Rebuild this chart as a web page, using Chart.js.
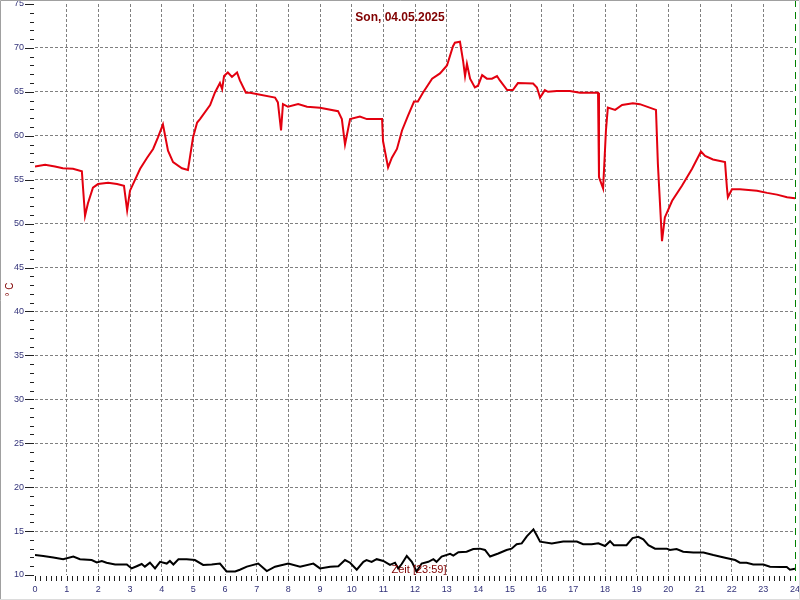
<!DOCTYPE html>
<html>
<head>
<meta charset="utf-8">
<title>Son, 04.05.2025</title>
<script src="https://cdn.jsdelivr.net/npm/chart.js@4.4.1/dist/chart.umd.min.js"></script>
<style>
  html, body { margin: 0; padding: 0; background: #fff; }
  #wrap { width: 800px; height: 600px; }
</style>
</head>
<body>
<div id="wrap"><canvas id="chart1" width="800" height="600"></canvas></div>
<script>
  "use strict";

  var chartTitle = 'Son, 04.05.2025';
  var timeLabel = 'Zeit [23:59]';
  var unitLabel = '° C';

  // red series (hours, °C)
  var redHours = [0.00, 0.32, 0.63, 0.88, 1.20, 1.48, 1.58, 1.67, 1.83, 1.99, 2.31, 2.59, 2.81, 2.91, 3.00,
    3.32, 3.54, 3.73, 3.88, 4.04, 4.20, 4.36, 4.64, 4.83, 4.99, 5.12, 5.21, 5.53, 5.68, 5.84, 5.91,
    5.97, 6.09, 6.22, 6.38, 6.47, 6.66, 6.79, 7.58, 7.67, 7.77, 7.83, 7.99, 8.31, 8.59, 9.00, 9.57,
    9.69, 9.79, 9.95, 10.26, 10.48, 10.96, 10.99, 11.15, 11.27, 11.43, 11.59, 11.78, 11.97, 12.09,
    12.25, 12.54, 12.79, 13.01, 13.20, 13.26, 13.42, 13.52, 13.58, 13.64, 13.74, 13.89, 13.99, 14.12,
    14.27, 14.43, 14.59, 14.68, 14.91, 15.09, 15.25, 15.73, 15.85, 15.95, 16.10, 16.20, 16.48, 16.89,
    17.21, 17.78, 17.81, 17.94, 18.03, 18.09, 18.32, 18.54, 18.88, 19.10, 19.61, 19.67, 19.80, 19.89,
    20.12, 20.43, 20.75, 21.03, 21.16, 21.41, 21.79, 21.85, 21.88, 22.01, 22.26, 22.80, 23.12, 23.43,
    23.75, 24.00];
  var redTemp = [56.5, 56.7, 56.5, 56.3, 56.25, 55.95, 50.9, 52.3, 54.1, 54.5, 54.65, 54.5, 54.3, 51.5, 53.75,
    56.25, 57.5, 58.5, 59.8, 61.3, 58.3, 57.0, 56.3, 56.1, 59.8, 61.5, 61.9, 63.5, 64.9, 66.0, 65.3,
    66.8, 67.2, 66.7, 67.2, 66.3, 64.9, 64.9, 64.35, 63.8, 60.6, 63.6, 63.3, 63.6, 63.3, 63.2, 62.8,
    61.9, 59.0, 61.9, 62.2, 61.9, 61.9, 59.4, 56.4, 57.5, 58.5, 60.6, 62.3, 63.9, 63.9,
    64.9, 66.5, 67.1, 68.0, 70.2, 70.6, 70.7, 68.5, 66.8, 68.2, 66.5, 65.5, 65.7, 66.9,
    66.5, 66.5, 66.8, 66.3, 65.2, 65.2, 66.0, 65.95, 65.5, 64.35, 65.2, 65.0, 65.1, 65.1,
    64.9, 64.9, 55.3, 54.0, 60.6, 63.2, 62.95, 63.5, 63.7, 63.6, 62.95, 56.8, 48.0, 50.7,
    52.6, 54.3, 56.25, 58.2, 57.7, 57.3, 57.0, 54.1, 53.0, 53.9, 53.9, 53.75, 53.5, 53.3,
    53.0, 52.9];

  // black series (hours, °C)
  var blackHours = [0.00, 0.26, 0.58, 0.89, 1.21, 1.42, 1.79, 1.95, 2.11, 2.26, 2.53, 2.90, 3.05, 3.21, 3.37,
    3.47, 3.63, 3.79, 3.95, 4.16, 4.26, 4.37, 4.53, 4.79, 5.05, 5.31, 5.58, 5.84, 6.05, 6.32, 6.47,
    6.69, 7.05, 7.32, 7.58, 8.00, 8.37, 8.79, 9.00, 9.32, 9.58, 9.79, 9.95, 10.16, 10.37, 10.47,
    10.63, 10.79, 11.00, 11.21, 11.37, 11.47, 11.58, 11.74, 11.90, 12.05, 12.21, 12.42, 12.58, 12.68,
    12.84, 13.11, 13.21, 13.37, 13.63, 13.84, 14.05, 14.21, 14.37, 14.63, 14.89, 15.05, 15.21, 15.37,
    15.53, 15.74, 15.84, 15.95, 16.32, 16.68, 17.11, 17.31, 17.58, 17.79, 18.00, 18.16, 18.28, 18.68,
    18.87, 19.05, 19.21, 19.37, 19.58, 19.95, 20.05, 20.26, 20.47, 20.79, 21.11, 21.42, 21.79, 22.11,
    22.26, 22.47, 22.68, 23.00, 23.21, 23.53, 23.74, 23.84, 24.00];
  var blackTemp = [12.27, 12.16, 12.0, 11.8, 12.1, 11.8, 11.7, 11.44, 11.6, 11.4, 11.2, 11.2, 10.75, 11.0, 11.25,
    10.95, 11.4, 10.75, 11.5, 11.3, 11.6, 11.2, 11.8, 11.8, 11.7, 11.15, 11.2, 11.3, 10.4, 10.4, 10.6,
    10.95, 11.3, 10.45, 10.95, 11.3, 10.95, 11.3, 10.75, 10.95, 11.0, 11.7, 11.4, 10.6, 11.5, 11.7,
    11.5, 11.8, 11.6, 11.15, 11.4, 10.75, 11.25, 12.16, 11.5, 10.4, 11.3, 11.5, 11.8, 11.5,
    12.1, 12.4, 12.2, 12.6, 12.65, 12.95, 13.0, 12.85, 12.1, 12.45, 12.85, 13.0, 13.5, 13.6,
    14.4, 15.2, 14.55, 13.8, 13.6, 13.8, 13.8, 13.5, 13.5, 13.6, 13.3, 13.85, 13.4, 13.4,
    14.2, 14.35, 14.05, 13.4, 13.0, 13.0, 12.85, 12.95, 12.65, 12.55, 12.55, 12.27, 11.97, 11.7,
    11.4, 11.4, 11.2, 11.2, 10.95, 10.9, 10.9, 10.6, 10.7];

  function pairs(xs, ys) {
    return xs.map(function (x, i) { return { x: x, y: ys[i] }; });
  }

  var gridGray = '#808080';
  var tickBlue = '#33337a';
  var darkRed = '#800000';

  // minor ticks, green end line, border and the two texts
  var extras = {
    id: 'extras',
    beforeDraw: function (chart) {
      var c = chart.ctx;
      c.save();
      c.fillStyle = '#ffffff';
      c.fillRect(0, 0, chart.width, chart.height);
      c.restore();
    },
    beforeDatasetsDraw: function (chart) {
      var c = chart.ctx, xs = chart.scales.x, ys = chart.scales.y, a = chart.chartArea;
      c.save();
      c.strokeStyle = '#202020';
      c.lineWidth = 1;
      c.beginPath();
      for (var v = 10; v <= 75; v++) {
        var py = Math.round(ys.getPixelForValue(v)) + 0.5;
        c.moveTo(v % 5 === 0 ? a.left - 10 : a.left - 5, py);
        c.lineTo(a.left - 1, py);
      }
      for (var m = 0; m <= 24 * 6; m++) {
        var px = Math.round(xs.getPixelForValue(m / 6)) + 0.5;
        c.moveTo(px, a.bottom + 1);
        c.lineTo(px, a.bottom + 6);
      }
      c.stroke();

      var gx = Math.round(xs.getPixelForValue(24)) + 0.5;
      c.strokeStyle = '#008000';
      c.setLineDash([7, 5]);
      c.beginPath();
      c.moveTo(gx, 0);
      c.lineTo(gx, a.bottom + 6);
      c.stroke();
      c.restore();
    },
    afterDraw: function (chart) {
      var c = chart.ctx, a = chart.chartArea;
      c.save();
      c.fillStyle = darkRed;
      c.textAlign = 'center';
      c.textBaseline = 'alphabetic';
      c.font = 'bold 12px "Liberation Sans", Arial, sans-serif';
      c.fillText(chartTitle, chart.width / 2, 21);
      c.font = '11px "Liberation Sans", Arial, sans-serif';
      c.fillText(timeLabel, (a.left + a.right) / 2 + 4, a.bottom - 2);

      c.strokeStyle = '#a0a0a0';
      c.lineWidth = 1;
      c.beginPath();
      c.moveTo(0.5, chart.height);
      c.lineTo(0.5, 0.5);
      c.lineTo(chart.width, 0.5);
      c.stroke();
      c.strokeStyle = '#dcdcdc';
      c.beginPath();
      c.moveTo(chart.width - 0.5, 0);
      c.lineTo(chart.width - 0.5, chart.height - 0.5);
      c.lineTo(0, chart.height - 0.5);
      c.stroke();
      c.restore();
    }
  };

  var ctx = document.getElementById('chart1').getContext('2d');

  var myChart = new Chart(ctx, {
    type: 'line',
    data: {
      datasets: [{
        label: 'rot',
        data: pairs(redHours, redTemp),
        borderColor: '#e3000f',
        borderWidth: 2,
        pointRadius: 0,
        tension: 0,
        fill: false
      }, {
        label: 'schwarz',
        data: pairs(blackHours, blackTemp),
        borderColor: '#000000',
        borderWidth: 2,
        pointRadius: 0,
        tension: 0,
        fill: false
      }]
    },
    options: {
      responsive: false,
      animation: false,
      layout: { padding: { top: 4, right: 5, left: 0, bottom: 0 } },
      plugins: {
        legend: { display: false },
        tooltip: { enabled: false }
      },
      scales: {
        x: {
          type: 'linear',
          min: 0,
          max: 24,
          afterFit: function (scale) {
            scale.height = 25;
            scale.paddingLeft = 0;
            scale.paddingRight = 0;
          },
          ticks: {
            stepSize: 1,
            autoSkip: false,
            maxRotation: 0,
            padding: 9,
            color: tickBlue,
            font: { family: '"Liberation Sans", Arial, sans-serif', size: 9 }
          },
          grid: {
            drawTicks: false,
            color: function (c) {
              return (c.tick && (c.tick.value === 0 || c.tick.value === 24)) ? 'rgba(0,0,0,0)' : gridGray;
            }
          },
          border: { display: false, dash: [3, 2] }
        },
        y: {
          min: 10,
          max: 75,
          afterFit: function (scale) {
            scale.width = 35;
            scale.paddingTop = 0;
            scale.paddingBottom = 0;
          },
          title: {
            display: true,
            text: unitLabel,
            color: darkRed,
            padding: { top: 4, bottom: 0 },
            font: { family: '"Liberation Sans", Arial, sans-serif', size: 10 }
          },
          ticks: {
            stepSize: 5,
            padding: 11,
            color: tickBlue,
            font: { family: '"Liberation Sans", Arial, sans-serif', size: 9 }
          },
          grid: {
            drawTicks: false,
            color: function (c) {
              return (c.tick && (c.tick.value === 10 || c.tick.value === 75)) ? 'rgba(0,0,0,0)' : gridGray;
            }
          },
          border: { display: false, dash: [3, 2] }
        }
      }
    },
    plugins: [extras]
  });
</script>
</body>
</html>
